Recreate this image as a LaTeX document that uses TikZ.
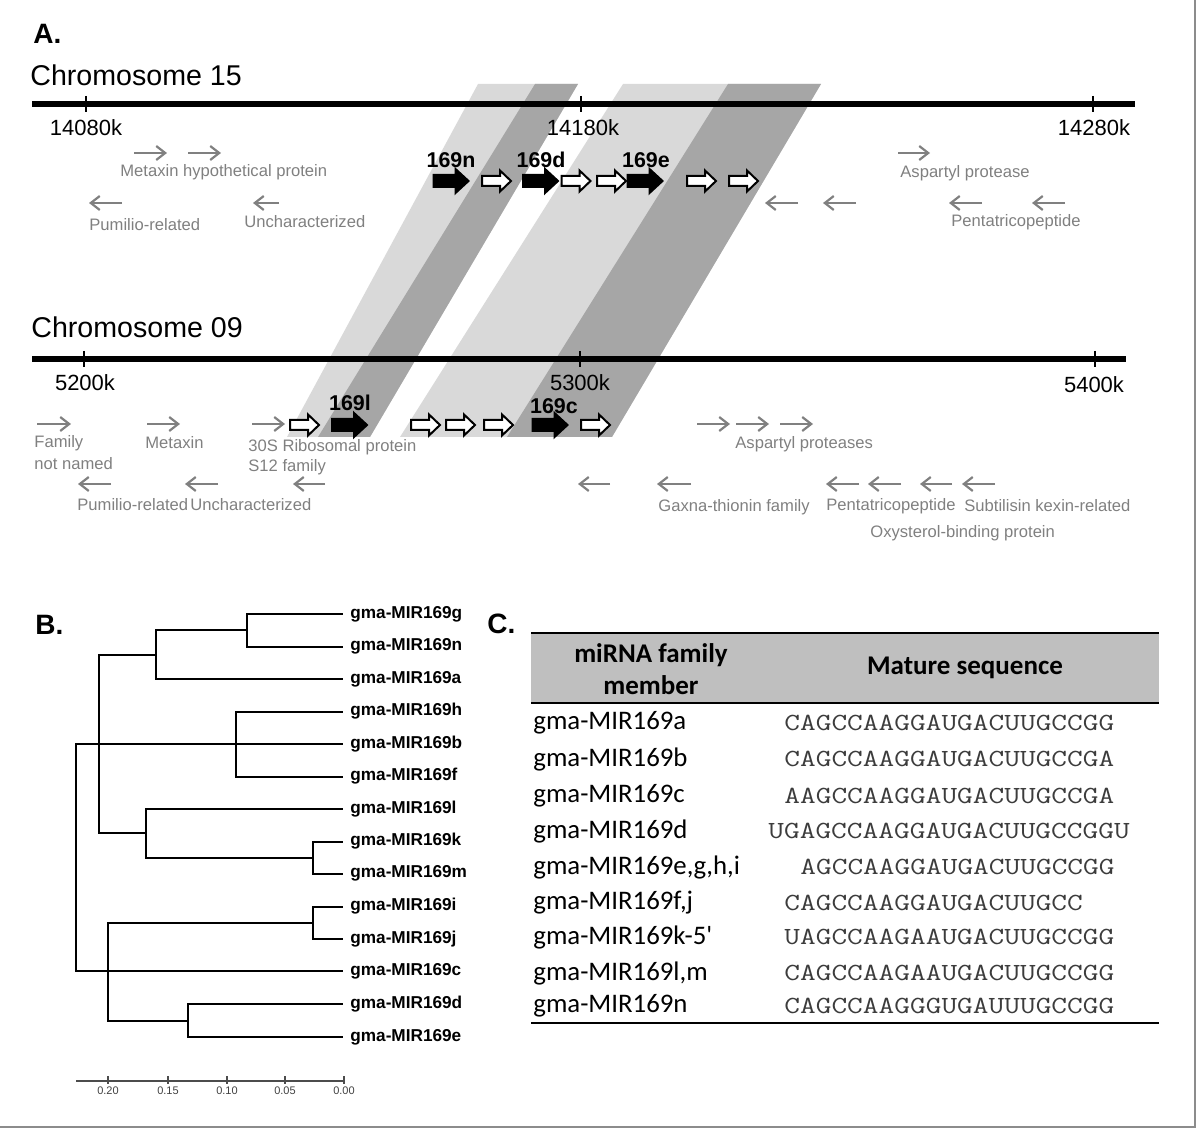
\documentclass[tikz,border=0pt]{standalone}
\usepackage{fontspec}
\usepackage{graphicx}
\setmainfont{Liberation Sans}
\newfontfamily\tablefont{Carlito}
\usetikzlibrary{arrows.meta}

\definecolor{bandLight}{RGB}{217,217,217}
\definecolor{bandDark}{RGB}{166,166,166}
\definecolor{geneGray}{RGB}{128,128,128}
\definecolor{headGray}{RGB}{191,191,191}
\definecolor{seqGray}{RGB}{60,60,60}

\newcommand{\setfs}[1]{\fontsize{#1}{#1}\selectfont}
\newcommand{\seqtext}[1]{\scalebox{1.24}[1]{\ttfamily\fontsize{12.3}{14}\selectfont #1}}

\begin{document}
\begin{tikzpicture}[
        x=0.5pt, y=-0.5pt,
        every node/.style={inner sep=0pt},
        panelLabel/.style={font=\setfs{14}\bfseries, anchor=west},
        chromTitle/.style={font=\setfs{14.3}, anchor=west},
        chromLine/.style={line width=3pt},
        chromTick/.style={line width=0.7pt},
        tickLabel/.style={font=\setfs{11}},
        geneLabel/.style={font=\setfs{8.3}, text=geneGray, anchor=west},
        geneArrow/.style={-{Straight Barb[length=4.5pt,width=7pt]}, geneGray, line width=1.1pt},
        mirLabel/.style={font=\setfs{10.7}\bfseries},
        treeLine/.style={line width=1pt},
        leafLink/.style={line width=1pt, shorten >=3.5pt},
        leafLabel/.style={font=\setfs{8.6}\bfseries, anchor=west},
        scaleLabel/.style={font=\setfs{5.5}, text=black!75},
        rowLabel/.style={font=\tablefont\setfs{13.4}, anchor=west},
        seqLabel/.style={text=seqGray, anchor=west},
        headLabel/.style={font=\tablefont\fontsize{13.5}{16}\selectfont\bfseries, align=center},
        ruleLine/.style={line width=1.2pt},
        pics/mirBlack/.style={code={
            \draw[line width=1pt, fill=black] (-17.5,-6) -- (4.5,-6) -- (4.5,-12) -- (17.5,0)
                -- (4.5,12) -- (4.5,6) -- (-17.5,6) -- cycle;}},
        pics/mirWhite/.style={code={
            \draw[line width=1pt, fill=white] (-14.5,-5) -- (3.5,-5) -- (3.5,-10.5) -- (14.5,0)
                -- (3.5,10.5) -- (3.5,5) -- (-14.5,5) -- cycle;}}
    ]
        \useasboundingbox (0,0) rectangle (1200,1128);

        % ---------------- A. synteny of the two chromosomes
        \node[panelLabel] (labA) at (33,34) {A.};

        % shaded bands joining the duplicated blocks
        \fill[bandLight] (478,84) -- (578,84) -- (370,437) -- (287,437) -- cycle;
        \fill[bandDark] (535,84) -- (578,84) -- (370,437) -- (318,437) -- cycle;
        \fill[bandLight] (623,84) -- (821,84) -- (612,437) -- (400,437) -- cycle;
        \fill[bandDark] (728,84) -- (821,84) -- (612,437) -- (507,437) -- cycle;

        % Chromosome 15
        \node[chromTitle] (chrA) at (30,75) {Chromosome 15};
        \draw[chromLine] (32,104) -- (1135,104);
        \draw[chromTick] (86,96) -- (86,112);
        \draw[chromTick] (581,96) -- (581,112);
        \draw[chromTick] (1093,96) -- (1093,112);
        \node[tickLabel] (tA1) at (86,128) {14080k};
        \node[tickLabel] (tA2) at (583,128) {14180k};
        \node[tickLabel] (tA3) at (1094,128) {14280k};

        % neighbouring genes on chromosome 15
        \foreach \xa/\xb in {134/167, 188/221, 898/930}
            \draw[geneArrow] (\xa,153) -- (\xb,153);
        \foreach \xa/\xb in {122/89, 279/253, 798/765, 856/823, 982/949, 1065/1032}
            \draw[geneArrow] (\xa,203) -- (\xb,203);
        \node[geneLabel] (gA1) at (120,172) {Metaxin hypothetical protein};
        \node[geneLabel] (gA2) at (89,225) {Pumilio-related};
        \node[geneLabel] (gA3) at (244,222) {Uncharacterized};
        \node[geneLabel] (gA4) at (900,173) {Aspartyl protease};
        \node[geneLabel] (gA5) at (951,222) {Pentatricopeptide};

        % MIR169 loci on chromosome 15
        \pic at (451,181) {mirBlack};
        \pic at (496.5,181) {mirWhite};
        \pic at (540.5,181) {mirBlack};
        \pic at (576,181) {mirWhite};
        \pic at (611.5,181) {mirWhite};
        \pic at (645,181) {mirBlack};
        \pic at (701.5,181) {mirWhite};
        \pic at (743.5,181) {mirWhite};
        \node[mirLabel] (m169n) at (451,160) {169n};
        \node[mirLabel] (m169d) at (541,160) {169d};
        \node[mirLabel] (m169e) at (646,160) {169e};

        % Chromosome 09
        \node[chromTitle] (chrB) at (31,327) {Chromosome 09};
        \draw[chromLine] (32,359) -- (1126,359);
        \draw[chromTick] (84,351) -- (84,367);
        \draw[chromTick] (580,351) -- (580,367);
        \draw[chromTick] (1095,351) -- (1095,367);
        \node[tickLabel] (tB1) at (85,383) {5200k};
        \node[tickLabel] (tB2) at (580,383) {5300k};
        \node[tickLabel] (tB3) at (1094,385) {5400k};

        % neighbouring genes on chromosome 09
        \foreach \xa/\xb in {37/71, 147/180, 252/285, 697/730, 736/769, 780/813}
            \draw[geneArrow] (\xa,424) -- (\xb,424);
        \foreach \xa/\xb in {111/78, 218/185, 325/293, 610/578, 691/657, 859/826, 901/868, 952/920, 995/962}
            \draw[geneArrow] (\xa,484) -- (\xb,484);
        \node[geneLabel] (gB1) at (34,443) {Family};
        \node[geneLabel] (gB2) at (34,464) {not named};
        \node[geneLabel] (gB3) at (145,443) {Metaxin};
        \node[geneLabel] (gB4) at (248,447) {30S Ribosomal protein};
        \node[geneLabel] (gB5) at (248,467) {S12 family};
        \node[geneLabel] (gB6) at (735,444) {Aspartyl proteases};
        \node[geneLabel] (gB7) at (77,505) {Pumilio-related};
        \node[geneLabel] (gB8) at (190,505) {Uncharacterized};
        \node[geneLabel] (gB9) at (658,507) {Gaxna-thionin family};
        \node[geneLabel] (gB10) at (826,506) {Pentatricopeptide};
        \node[geneLabel] (gB11) at (964,506) {Subtilisin kexin-related};
        \node[geneLabel] (gB12) at (870,533) {Oxysterol-binding protein};

        % MIR169 loci on chromosome 09
        \pic at (304.5,425) {mirWhite};
        \pic at (349.5,425) {mirBlack};
        \pic at (425.5,425) {mirWhite};
        \pic at (460.5,425) {mirWhite};
        \pic at (498.5,425) {mirWhite};
        \pic at (550,425) {mirBlack};
        \pic at (595.5,425) {mirWhite};
        \node[mirLabel] (m169l) at (350,403) {169l};
        \node[mirLabel] (m169c) at (554,406) {169c};

        % ---------------- B. tree of the precursors
        \node[panelLabel] (labB) at (35,625) {B.};

        \node[leafLabel] (lg) at (350,614) {gma-MIR169g};
        \node[leafLabel] (ln) at (350,646.5) {gma-MIR169n};
        \node[leafLabel] (la) at (350,679) {gma-MIR169a};
        \node[leafLabel] (lh) at (350,711.5) {gma-MIR169h};
        \node[leafLabel] (lb) at (350,744) {gma-MIR169b};
        \node[leafLabel] (lf) at (350,776.5) {gma-MIR169f};
        \node[leafLabel] (ll) at (350,809) {gma-MIR169l};
        \node[leafLabel] (lk) at (350,841.5) {gma-MIR169k};
        \node[leafLabel] (lm) at (350,873.5) {gma-MIR169m};
        \node[leafLabel] (li) at (350,906.5) {gma-MIR169i};
        \node[leafLabel] (lj) at (350,939) {gma-MIR169j};
        \node[leafLabel] (lc) at (350,971) {gma-MIR169c};
        \node[leafLabel] (ld) at (350,1004) {gma-MIR169d};
        \node[leafLabel] (le) at (350,1037) {gma-MIR169e};

        \coordinate (nGN) at (247,630.25);
        \coordinate (nGNA) at (156,654.6);
        \coordinate (nHBF) at (236,744);
        \coordinate (nKM) at (313,857.5);
        \coordinate (nLKM) at (146,833.25);
        \coordinate (nTop) at (99,744);
        \coordinate (nIJ) at (313,922.75);
        \coordinate (nDE) at (188,1020.5);
        \coordinate (nBot) at (108,971);
        \coordinate (nRoot) at (76,857.5);

        \draw[leafLink] (nGN) |- (lg.west);
        \draw[leafLink] (nGN) |- (ln.west);
        \draw[treeLine] (nGNA) |- (nGN);
        \draw[leafLink] (nGNA) |- (la.west);
        \draw[treeLine] (nTop) |- (nGNA);
        \draw[treeLine] (nTop) |- (nLKM);
        \draw[treeLine] (nTop) -- (nHBF);
        \draw[leafLink] (nHBF) |- (lh.west);
        \draw[leafLink] (nHBF) |- (lf.west);
        \draw[leafLink] (nHBF) -- (lb.west);
        \draw[leafLink] (nLKM) |- (ll.west);
        \draw[treeLine] (nLKM) |- (nKM);
        \draw[leafLink] (nKM) |- (lk.west);
        \draw[leafLink] (nKM) |- (lm.west);
        \draw[treeLine] (nRoot) |- (nTop);
        \draw[treeLine] (nRoot) |- (nBot);
        \draw[leafLink] (nBot) -- (lc.west);
        \draw[treeLine] (nBot) |- (nIJ);
        \draw[treeLine] (nBot) |- (nDE);
        \draw[leafLink] (nIJ) |- (li.west);
        \draw[leafLink] (nIJ) |- (lj.west);
        \draw[leafLink] (nDE) |- (ld.west);
        \draw[leafLink] (nDE) |- (le.west);

        % distance scale
        \draw[black!70, line width=0.6pt] (76,1081) -- (344,1081);
        \foreach \tx/\tl in {108/0.20, 168/0.15, 227/0.10, 285/0.05, 344/0.00} {
            \draw[black!70, line width=0.6pt] (\tx,1076) -- (\tx,1084);
            \node[scaleLabel] at (\tx,1091) {\tl};
        }

        % ---------------- C. mature sequences
        \node[panelLabel] (labC) at (487,624) {C.};

        \fill[headGray] (531,633) rectangle (1159,703);
        \draw[ruleLine] (531,633) -- (1159,633);
        \draw[ruleLine] (531,703) -- (1159,703);
        \draw[ruleLine] (531,1023) -- (1159,1023);
        \node[headLabel] (hMember) at (651,669) {miRNA family\\member};
        \node[headLabel] (hSeq) at (965,668) {Mature sequence};

        \node[rowLabel] (ra) at (533,723) {gma-MIR169a};
        \node[rowLabel] (rb) at (533,759) {gma-MIR169b};
        \node[rowLabel] (rc) at (533,796) {gma-MIR169c};
        \node[rowLabel] (rd) at (533,831) {gma-MIR169d};
        \node[rowLabel] (re) at (533,867) {gma-MIR169e,g,h,i};
        \node[rowLabel] (rf) at (533,903) {gma-MIR169f,j};
        \node[rowLabel] (rk) at (533,937) {gma-MIR169k-5'};
        \node[rowLabel] (rl) at (533,973) {gma-MIR169l,m};
        \node[rowLabel] (rn) at (533,1006) {gma-MIR169n};

        \node[seqLabel] (sa) at (784,723) {\seqtext{CAGCCAAGGAUGACUUGCCGG}};
        \node[seqLabel] (sb) at (784,759) {\seqtext{CAGCCAAGGAUGACUUGCCGA}};
        \node[seqLabel] (sc) at (784,796) {\seqtext{AAGCCAAGGAUGACUUGCCGA}};
        \node[seqLabel] (sd) at (768,831) {\seqtext{UGAGCCAAGGAUGACUUGCCGGU}};
        \node[seqLabel] (se) at (800,867) {\seqtext{AGCCAAGGAUGACUUGCCGG}};
        \node[seqLabel] (sf) at (784,903) {\seqtext{CAGCCAAGGAUGACUUGCC}};
        \node[seqLabel] (sk) at (784,937) {\seqtext{UAGCCAAGAAUGACUUGCCGG}};
        \node[seqLabel] (sl) at (784,973) {\seqtext{CAGCCAAGAAUGACUUGCCGG}};
        \node[seqLabel] (sn) at (784,1006) {\seqtext{CAGCCAAGGGUGAUUUGCCGG}};

        % frame edge
        \draw[black!45, line width=1pt] (1195,0) -- (1195,1127) -- (0,1127);

    \end{tikzpicture}
\end{document}
